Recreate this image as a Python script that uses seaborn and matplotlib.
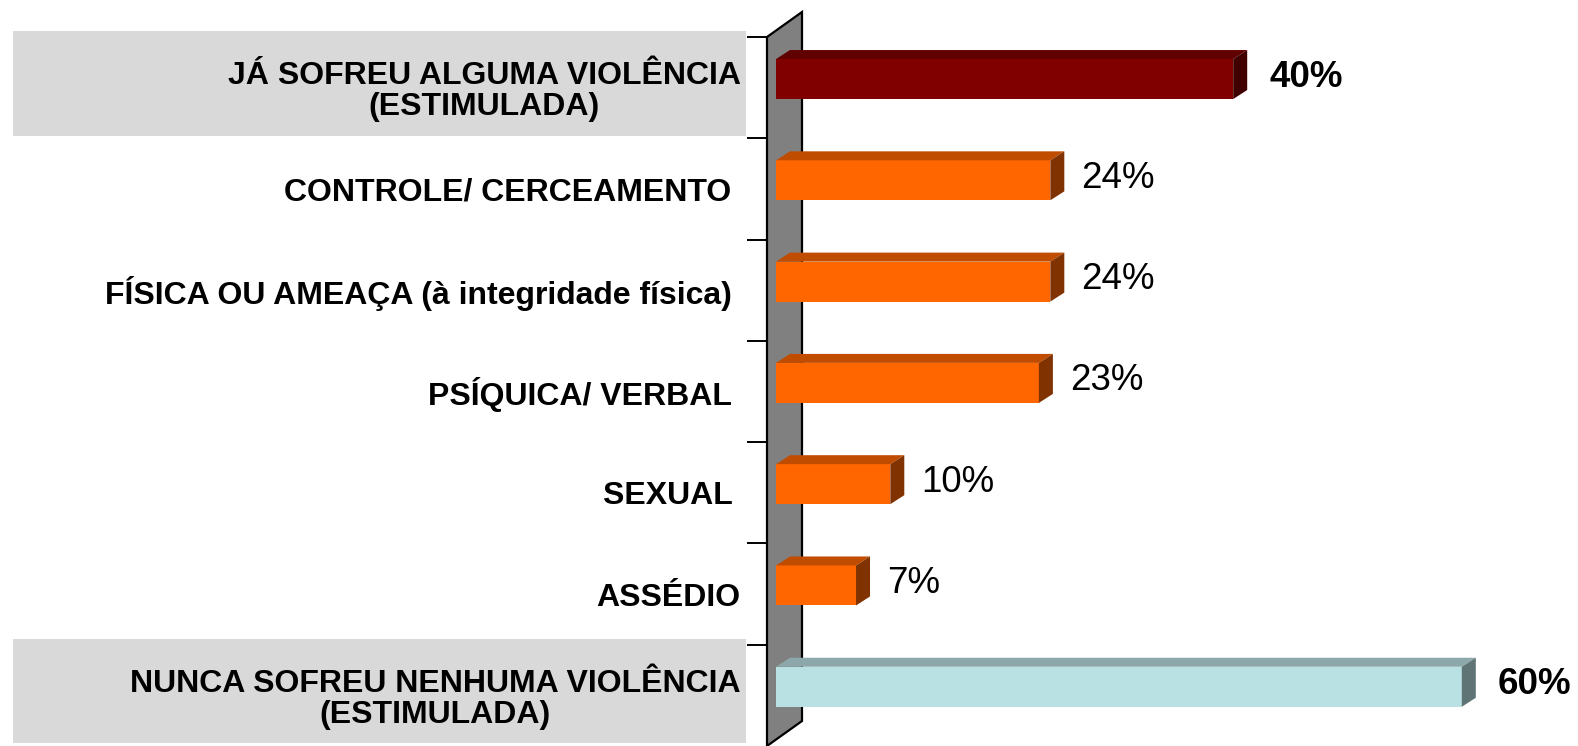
import numpy as np
import matplotlib.pyplot as plt
import matplotlib.transforms as mtransforms
import seaborn as sns
from matplotlib.patches import Polygon, Rectangle

# Data
categories = ['JÁ SOFREU ALGUMA VIOLÊNCIA\n(ESTIMULADA)',
              'CONTROLE/ CERCEAMENTO ',
              'FÍSICA OU AMEAÇA (à integridade física) ',
              'PSÍQUICA/ VERBAL ',
              'SEXUAL ',
              'ASSÉDIO',
              'NUNCA SOFREU NENHUMA VIOLÊNCIA\n(ESTIMULADA)']
values = [40, 24, 24, 23, 10, 7, 60]
value_labels = ['40%', '24%', '24%', '23%', '10%', '7%', '60%']
bold_value = [True, False, False, False, False, False, True]
front_colors = ['#800000', '#FF6600', '#FF6600', '#FF6600', '#FF6600',
                '#FF6600', '#B9E0E2']
top_colors = ['#600000', '#C04C00', '#C04C00', '#C04C00', '#C04C00',
              '#C04C00', '#8CA8AA']
side_colors = ['#400000', '#803300', '#803300', '#803300', '#803300',
               '#803300', '#5E7475']
boxed = [0, 6]

sns.set_theme(style='white')
plt.rcParams['font.family'] = ['Liberation Sans', 'DejaVu Sans']

W, H = 1578, 746
fig = plt.figure(figsize=(W / 100, H / 100), dpi=100)
ax_left, ax_top = 767, 37
ax = fig.add_axes([ax_left / W, 0, (W - ax_left) / W, (H - ax_top) / H])

# scale: pixels per percent, 0% sits a little inside the wall
px_per_pct = 11.43
zero_px = 776
xmin = (ax_left - zero_px) / px_per_pct
xmax = (W - zero_px) / px_per_pct
slot_px = (H - ax_top) / len(categories)
off = 8.6 / slot_px
bar_h = 40 / slot_px
dx = 14 / px_per_pct
dy = 9 / slot_px

sns.barplot(x=values, y=categories, hue=categories, palette=front_colors,
            saturation=1, width=bar_h, orient='h', legend=False, ax=ax,
            edgecolor='none', zorder=3)
ax.set_xlim(xmin, xmax)
ax.set_ylim(len(categories) - 0.5 + off, -0.5 + off)

# 3D faces of the bars
for i, v in enumerate(values):
    yt = i - bar_h / 2
    yb = i + bar_h / 2
    ax.add_patch(Polygon([(0, yt), (v, yt), (v + dx, yt - dy), (dx, yt - dy)],
                         closed=True, facecolor=top_colors[i],
                         edgecolor='none', zorder=3))
    ax.add_patch(Polygon([(v, yt), (v, yb), (v + dx, yb - dy),
                          (v + dx, yt - dy)],
                         closed=True, facecolor=side_colors[i],
                         edgecolor='none', zorder=3))
    gap = 22 if bold_value[i] else 17
    ax.text(v + dx + gap / px_per_pct, i - 0.02, value_labels[i],
            va='center', ha='left', fontsize=26.5, color='black',
            fontweight='bold' if bold_value[i] else 'normal')

# gray wall
ww = 35 / px_per_pct
wdy = 25 / slot_px
ytop = -0.5 + off
ybot = len(categories) - 0.5 + off
wall = Polygon([(xmin, ytop), (xmin + ww, ytop - wdy), (xmin + ww, ybot - wdy),
                (xmin, ybot)], closed=True, facecolor='#808080',
               edgecolor='black', linewidth=1.6, clip_on=False, zorder=2)
ax.add_patch(wall)

# gray boxes behind the total labels
trans = mtransforms.blended_transform_factory(fig.transFigure, ax.transData)
for k in boxed:
    ax.add_patch(Rectangle((13 / W, k - 0.5 + off - 0.055), 733 / W, 1.03,
                           transform=trans, facecolor='#D9D9D9',
                           edgecolor='none', clip_on=False, zorder=0))

# ticks and labels
ax.set_yticks(np.arange(len(categories)) + off, categories)
ax.set_yticks(np.arange(len(categories)) - 0.5 + off, minor=True)
ax.tick_params(axis='y', which='major', length=0, pad=19, labelsize=23,
               labelcolor='black')
ax.tick_params(axis='y', which='minor', length=14.4, width=1.4,
               color='black', left=True)
for t in ax.get_yticklabels():
    t.set_fontweight('bold')
    t.set_multialignment('center')
    t.set_linespacing(1.05)
ax.set_xticks([])
ax.set_xlabel('')
ax.set_ylabel('')
for s in ax.spines.values():
    s.set_visible(False)
ax.patch.set_alpha(0)

fig.savefig('out.png', dpi=100)
